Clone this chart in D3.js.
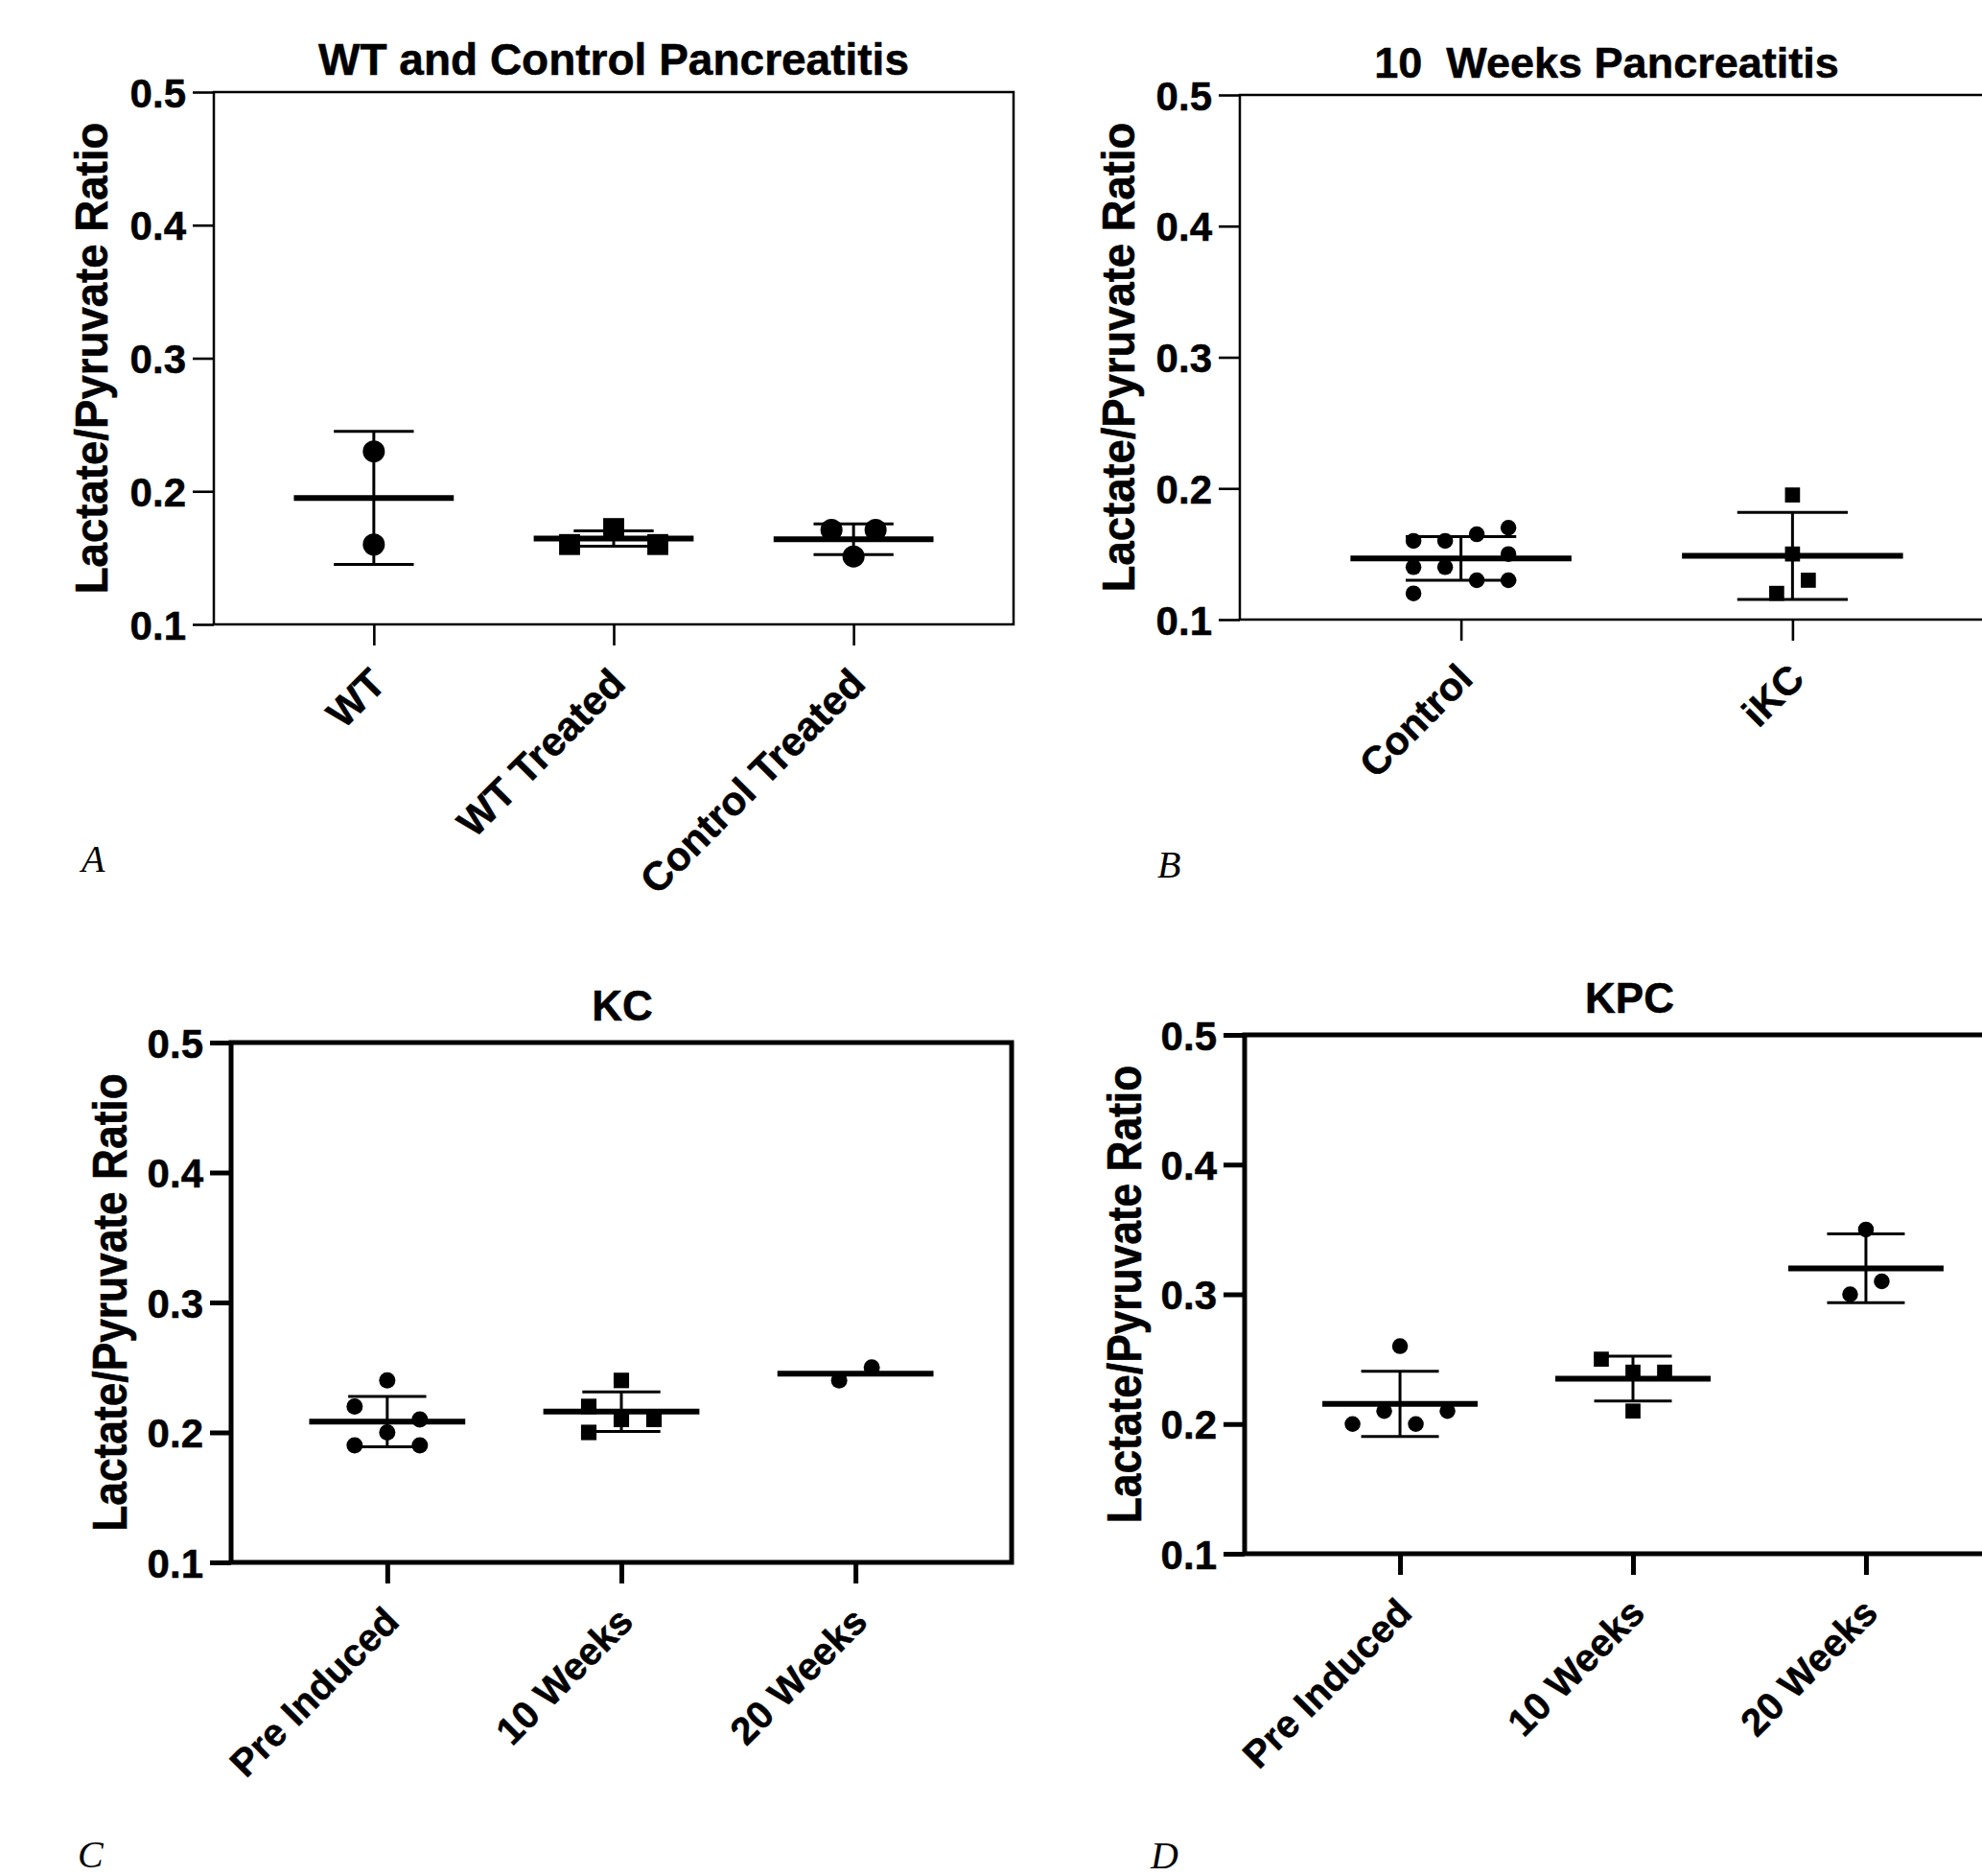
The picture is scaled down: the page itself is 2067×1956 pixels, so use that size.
<!DOCTYPE html>
<html><head><meta charset="utf-8">
<script src="https://cdn.jsdelivr.net/npm/d3@7/dist/d3.min.js"></script>
<style>
html,body{margin:0;padding:0;background:#fff;}
svg{display:block;background:#fff;}
text{font-family:"Liberation Sans",Arial,Helvetica,sans-serif;font-weight:bold;fill:#000;stroke:#000;stroke-width:0.5px;}
text.letter{font-family:"Liberation Serif","Times New Roman",serif;font-style:italic;font-weight:normal;stroke:none;}
</style></head><body>
<svg id="fig" width="2067" height="1956"></svg>
<script>
// ---------------- data ----------------
const yTicks = [0.1, 0.2, 0.3, 0.4, 0.5];
const yLabel = "Lactate/Pyruvate Ratio";

// Panel A
const aTitle = "WT and Control Pancreatitis";
const aCategories = ["WT", "WT Treated", "Control Treated"];
const aShapes = ["circle", "square", "circle"];
const aValues = [[0.23, 0.16], [0.16, 0.172, 0.16], [0.171, 0.171, 0.151]];
const aSlots = [[0, 0], [-2, 0, 2], [-1, 1, 0]];
const aMeans = [0.195, 0.1645, 0.164];
const aSDs = [0.05, 0.0057, 0.0115];

// Panel B
const bTitle = "10\u00a0 Weeks Pancreatitis";
const bCategories = ["Control", "iKC"];
const bShapes = ["circle", "square"];
const bValues = [[0.16, 0.16, 0.165, 0.17, 0.14, 0.14, 0.15, 0.13, 0.13, 0.12], [0.195, 0.15, 0.13, 0.12]];
const bSlots = [[-3, -1, 1, 3, -3, -1, 3, 1, 3, -3], [0, 0, 1, -1]];
const bMeans = [0.1466, 0.1486];
const bSDs = [0.0166, 0.0332];

// Panel C
const cTitle = "KC";
const cCategories = ["Pre Induced", "10 Weeks", "20 Weeks"];
const cShapes = ["circle", "square", "circle"];
const cValues = [[0.24, 0.22, 0.21, 0.20, 0.19, 0.19], [0.24, 0.22, 0.21, 0.21, 0.20], [0.24, 0.25]];
const cSlots = [[0, -2, 2, 0, -2, 2], [0, -2, 0, 2, -2], [-1, 1]];
const cMeans = [0.2083, 0.216, 0.2452];
const cSDs = [0.0194, 0.0152, null];

// Panel D
const dTitle = "KPC";
const dCategories = ["Pre Induced", "10 Weeks", "20 Weeks"];
const dShapes = ["circle", "square", "circle"];
const dValues = [[0.26, 0.20, 0.21, 0.20, 0.21], [0.25, 0.24, 0.24, 0.21], [0.35, 0.30, 0.31]];
const dSlots = [[0, -3, -1, 1, 3], [-2, 0, 2, 0], [0, -1, 1]];
const dMeans = [0.2155, 0.235, 0.32];
const dSDs = [0.0252, 0.0173, 0.0265];

// ---------------- layout ----------------
const panels = [
  {letter: "A", title: aTitle, categories: aCategories, shapes: aShapes, values: aValues, slots: aSlots, means: aMeans, sds: aSDs,
   L: {left: 223, right: 1057, top: 96, bottom: 651, frame: 2.5, tickW: 2.6, marker: 23,
       titleX: 640, titleY: 78, titleSize: 46, titleK: 1.0, tickSize: 42,
       ylabX: 112, ylabSize: 45.6, ylabK: 1.05, catSize: 42, letterX: 85, letterY: 909}},
  {letter: "B", title: bTitle, categories: bCategories, shapes: bShapes, values: bValues, slots: bSlots, means: bMeans, sds: bSDs,
   L: {left: 1293, right: 2100, top: 99, bottom: 646, frame: 2.5, tickW: 2.6, marker: 16.5,
       titleX: 1675.5, titleY: 81, titleSize: 45, titleK: 1.0, tickSize: 42,
       ylabX: 1183, ylabSize: 45.4, ylabK: 1.05, catSize: 41, letterX: 1207, letterY: 915}},
  {letter: "C", title: cTitle, categories: cCategories, shapes: cShapes, values: cValues, slots: cSlots, means: cMeans, sds: cSDs,
   L: {left: 241, right: 1055, top: 1087, bottom: 1629, frame: 5, tickW: 5, marker: 17,
       titleX: 649, titleY: 1064, titleSize: 44, titleK: 1.0, tickSize: 42,
       ylabX: 132, ylabSize: 44.3, ylabK: 1.12, catSize: 40, letterX: 81, letterY: 1947}},
  {letter: "D", title: dTitle, categories: dCategories, shapes: dShapes, values: dValues, slots: dSlots, means: dMeans, sds: dSDs,
   L: {left: 1298, right: 2108, top: 1079, bottom: 1620, frame: 5, tickW: 5, marker: 16.5,
       titleX: 1699.5, titleY: 1056, titleSize: 44, titleK: 1.0, tickSize: 42,
       ylabX: 1190, ylabSize: 44.3, ylabK: 1.12, catSize: 40, letterX: 1200, letterY: 1948}}
];

const svg = d3.select("#fig");
svg.append("rect").attr("width", 2067).attr("height", 1956).attr("fill", "#fff");

panels.forEach(p => {
  const L = p.L;
  const g = svg.append("g").attr("class", "panel-" + p.letter);
  const y = d3.scaleLinear().domain([0.1, 0.5]).range([L.bottom, L.top]);
  const x = d3.scalePoint().domain(p.categories).range([L.left, L.right]).padding(0.667);
  const step = x.step();
  const jitter = d3.scaleLinear().domain([0, 1]).range([0, L.marker]);

  // frame
  g.append("rect")
    .attr("x", L.left).attr("y", L.top)
    .attr("width", L.right - L.left).attr("height", L.bottom - L.top)
    .attr("fill", "none").attr("stroke", "#000").attr("stroke-width", L.frame);

  // y axis
  const ya = g.append("g").attr("transform", `translate(${L.left},0)`)
    .call(d3.axisLeft(y).tickValues(yTicks).tickFormat(d3.format(".1f")).tickSize(22).tickSizeOuter(0).tickPadding(7));
  ya.select(".domain").remove();
  ya.selectAll(".tick line").attr("stroke", "#000").attr("stroke-width", L.tickW);
  ya.selectAll(".tick text").attr("font-size", L.tickSize).attr("dy", "0.36em")
    .style("font-family", '"Liberation Sans", Arial, sans-serif').style("font-weight", "bold");

  // x axis
  const xa = g.append("g").attr("transform", `translate(0,${L.bottom})`)
    .call(d3.axisBottom(x).tickSize(22).tickSizeOuter(0));
  xa.select(".domain").remove();
  xa.selectAll(".tick line").attr("stroke", "#000").attr("stroke-width", L.tickW);
  xa.selectAll(".tick text")
    .attr("x", 0).attr("y", 0).attr("dy", null)
    .attr("transform", "translate(14,64) rotate(-45)")
    .attr("text-anchor", "end")
    .attr("font-size", L.catSize)
    .style("font-family", '"Liberation Sans", Arial, sans-serif').style("font-weight", "bold");

  // title
  g.append("text")
    .attr("transform", `translate(${L.titleX},${L.titleY}) scale(${L.titleK},1)`)
    .attr("text-anchor", "middle").attr("font-size", L.titleSize)
    .style("white-space", "pre")
    .text(p.title);

  // y label
  g.append("text")
    .attr("transform", `translate(${L.ylabX},${(L.top + L.bottom) / 2}) scale(${L.ylabK},1) rotate(-90)`)
    .attr("text-anchor", "middle").attr("font-size", L.ylabSize)
    .text(yLabel);

  // panel letter
  g.append("text").attr("class", "letter")
    .attr("x", L.letterX).attr("y", L.letterY).attr("font-size", 40)
    .text(p.letter);

  // error bars + mean lines
  p.categories.forEach((cat, i) => {
    const cx = x(cat);
    const m = p.means[i], s = p.sds[i];
    if (s != null) {
      const capW = step / 6;
      const eg = g.append("g").attr("stroke", "#000").attr("stroke-width", 3).attr("fill", "none");
      eg.append("line").attr("x1", cx).attr("x2", cx).attr("y1", y(m - s)).attr("y2", y(m + s));
      eg.append("line").attr("x1", cx - capW).attr("x2", cx + capW).attr("y1", y(m + s)).attr("y2", y(m + s));
      eg.append("line").attr("x1", cx - capW).attr("x2", cx + capW).attr("y1", y(m - s)).attr("y2", y(m - s));
    }
    const mW = step / 3;
    g.append("line").attr("x1", cx - mW).attr("x2", cx + mW).attr("y1", y(m)).attr("y2", y(m))
      .attr("stroke", "#000").attr("stroke-width", 6);
  });

  // points
  p.categories.forEach((cat, i) => {
    const pts = p.values[i].map((v, j) => ({v, s: p.slots[i][j]}));
    if (p.shapes[i] === "circle") {
      g.selectAll(null).data(pts).enter().append("circle")
        .attr("cx", d => x(cat) + jitter(d.s)).attr("cy", d => y(d.v))
        .attr("r", L.marker / 2).attr("fill", "#000");
    } else {
      const side = L.marker * 0.95;
      g.selectAll(null).data(pts).enter().append("rect")
        .attr("x", d => x(cat) + jitter(d.s) - side / 2).attr("y", d => y(d.v) - side / 2)
        .attr("width", side).attr("height", side).attr("fill", "#000");
    }
  });
});
</script>
</body></html>
